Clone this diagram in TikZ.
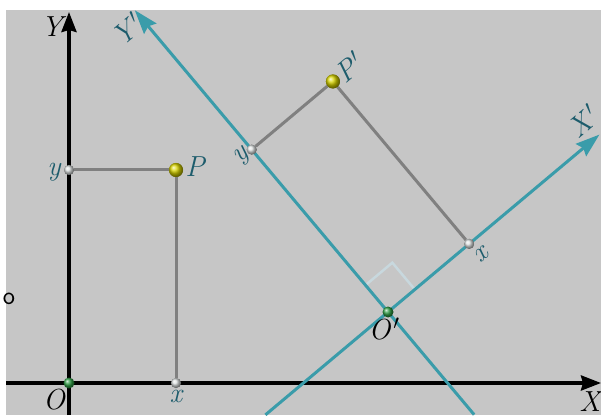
\documentclass[tikz,border=0pt]{standalone}
\usetikzlibrary{arrows.meta,calc}
\definecolor{bg}{HTML}{C6C6C6}
\definecolor{tealax}{HTML}{3A9CAA}
\definecolor{teallab}{HTML}{1D5C6C}
\definecolor{projgray}{HTML}{808080}
\definecolor{ptyellow}{HTML}{D8D400}
\definecolor{ptgreen}{HTML}{2E9E44}
\definecolor{ptlight}{HTML}{DCE0E0}
\definecolor{rightang}{HTML}{C8D8DE}
\newcommand{\prm}{\kern3pt\raisebox{0.1ex}{$'$}}
\tikzset{
  blackaxis/.style={line width=3.5pt, black, -{Stealth[length=20pt,width=15pt,inset=2pt]}},
  tealaxis/.style={line width=3pt, tealax, -{Stealth[length=24pt,width=16pt,inset=3pt]}},
  tealline/.style={line width=3pt, tealax},
  projline/.style={line width=3pt, projgray},
  bigpt/.style={circle, inner sep=0pt, minimum size=14pt, shading=ball, ball color=ptyellow},
  greenpt/.style={circle, inner sep=0pt, minimum size=11pt, shading=ball, ball color=ptgreen},
  lightpt/.style={circle, inner sep=0pt, minimum size=10pt, shading=ball, ball color=ptlight},
  blab/.style={text=black, inner sep=1pt, font=\itshape\fontsize{29}{33}\selectfont},
  tlab/.style={text=teallab, inner sep=1pt, font=\itshape\fontsize{29}{33}\selectfont},
  slab/.style={text=teallab, inner sep=1pt, font=\itshape\fontsize{28}{32}\selectfont}
}
\begin{document}
\begin{tikzpicture}[x=1pt,y=1pt]
\useasboundingbox (0,0) rectangle (601,415);
\fill[bg] (6,0) rectangle (601,405);
% coordinates
\coordinate (Ybot) at (69,0);
\coordinate (Ytip) at (69,403);
\coordinate (Xbeg) at (6,32);
\coordinate (Xtip) at (601,32);
\coordinate (OpC) at (388,103);
\coordinate (Xpbeg) at ($(OpC)+(220:160)$);
\coordinate (Xptip) at ($(OpC)+(40:276)$);
\coordinate (Ypbeg) at ($(OpC)+(310:134)$);
\coordinate (Yptip) at ($(OpC)+(130:394)$);
\coordinate (RA1) at ($(OpC)+(40:35)$);
\coordinate (RA2) at ($(OpC)+(40:35)+(130:35)$);
\coordinate (RA3) at ($(OpC)+(130:35)$);
\coordinate (PxpC) at ($(OpC)+(40:106)$);
\coordinate (PypC) at ($(OpC)+(130:212)$);
\coordinate (PpC) at ($(OpC)+(40:106)+(130:212)$);
% right angle
\draw[rightang, line width=2.5pt] (RA1) -- (RA2) -- (RA3);
% axes
\draw[blackaxis] (Ybot) -- (Ytip);
\draw[blackaxis] (Xbeg) -- (Xtip);
\draw[tealline] (Xpbeg) -- (OpC);
\draw[tealaxis] (OpC) -- (Xptip);
\draw[tealline] (Ypbeg) -- (OpC);
\draw[tealaxis] (OpC) -- (Yptip);
% points
\node[greenpt] (O) at (69,32) {};
\node[lightpt] (Px) at (176,32) {};
\node[lightpt] (Py) at (69,245) {};
\node[bigpt] (P) at (176,245) {};
\node[greenpt] (Op) at (OpC) {};
\node[lightpt] (Pxp) at (PxpC) {};
\node[lightpt] (Pyp) at (PypC) {};
\node[bigpt] (Pp) at (PpC) {};
% projection lines
\draw[projline] (Py) -- (P);
\draw[projline] (Px) -- (P);
\draw[projline] (Pyp) -- (Pp);
\draw[projline] (Pxp) -- (Pp);
\node[bigpt] at (P) {};
\node[bigpt] at (Pp) {};
\node[lightpt] at (Px) {};
\node[lightpt] at (Py) {};
\node[lightpt] at (Pxp) {};
\node[lightpt] at (Pyp) {};
% labels
\node[blab] (lY) at (52,388) {Y};
\node[blab] (lX) at (590,13) {X};
\node[blab] (lO) at (54,15) {O};
\node[blab] (lOp) at (384,86) {O\prm};
\node[slab] (lx) at (176,19) {x};
\node[slab] (ly) at (54,243) {y};
\node[tlab] (lP) at (195,248) {P};
\node[tlab, rotate=40] (lPp) at (349,348) {P\prm};
\node[slab, rotate=40] (lyp) at (242,258) {y};
\node[slab, rotate=40] (lxp) at (481,160) {x};
\node[tlab, rotate=40] (lXp) at (583,294) {X\prm};
\node[tlab, rotate=40] (lYp) at (127,386) {Y\prm};
\node[text=black, font=\sffamily\fontsize{26}{28}\selectfont] (lo) at (9,116) {o};
\end{tikzpicture}
\end{document}
